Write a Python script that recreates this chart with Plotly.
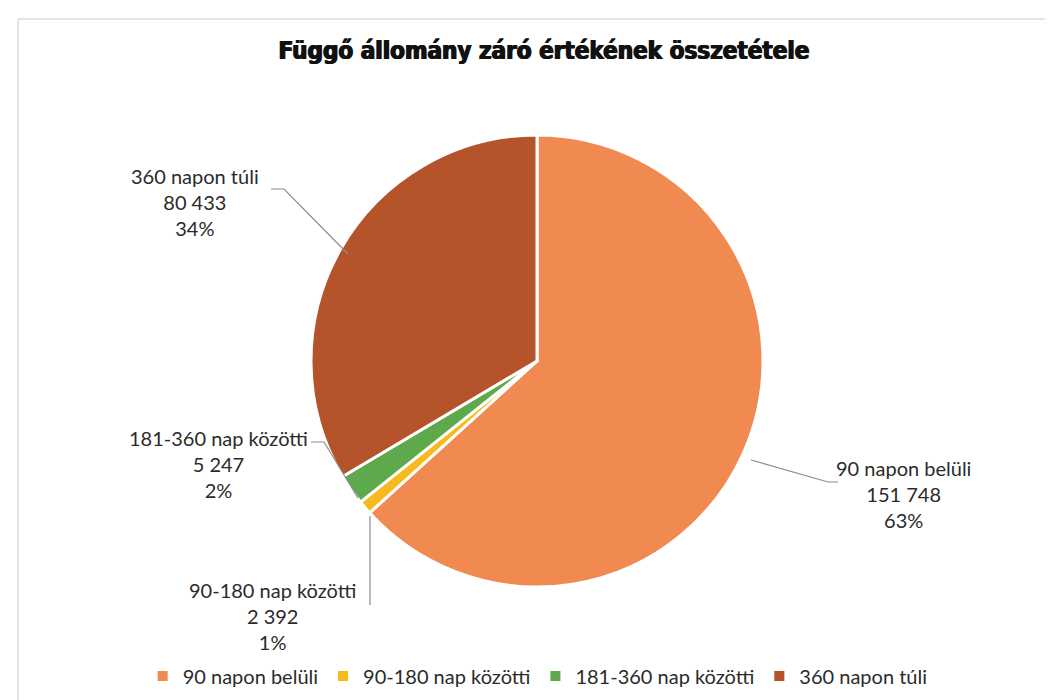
import plotly.graph_objects as go

# data
categories = ["90 napon belüli", "90-180 nap közötti", "181-360 nap közötti", "360 napon túli"]
values = [151748, 2392, 5247, 80433]
colors = ["#F08A50", "#F7BA1E", "#5EA94B", "#B5532B"]

total = sum(values)


def fmt_num(v):
    return f"{v:,}".replace(",", " ")


def label_text(name, v):
    pct = round(v / total * 100)
    return f"{name}<br>{fmt_num(v)}<br>{pct}%"


W, H = 1053, 700

fig = go.Figure(
    go.Pie(
        labels=categories,
        values=values,
        sort=False,
        direction="clockwise",
        rotation=0,
        textinfo="none",
        hoverinfo="label+value+percent",
        marker=dict(colors=colors, line=dict(color="white", width=3)),
        domain=dict(x=[303 / W, 755 / W], y=[1 - 579 / H, 1 - 127 / H]),
        showlegend=True,
    )
)

# label placement (paper pixels -> fractions)
label_pos = {
    "90 napon belüli": (895, 486),
    "90-180 nap közötti": (264, 608),
    "181-360 nap közötti": (210, 456),
    "360 napon túli": (187, 194),
}
for name, v in zip(categories, values):
    x, y = label_pos[name]
    fig.add_annotation(
        x=x / W, y=1 - y / H, xref="paper", yref="paper",
        text=label_text(name, v), showarrow=False,
        font=dict(family="Lato", size=20, color="#2b2b2b"),
        align="center", xanchor="center", yanchor="middle",
    )

# leader lines
leaders = [
    [(263, 181), (276, 181), (340, 246)],
    [(743, 452), (820, 474), (830, 474)],
    [(303, 434), (316, 434), (350, 490)],
    [(362, 508), (362, 597)],
]
for pts in leaders:
    path = "M " + " L ".join(f"{px / W},{1 - py / H}" for px, py in pts)
    fig.add_shape(type="path", path=path, xref="paper", yref="paper",
                  line=dict(color="#8c8c8c", width=1.2))

# faint border lines at top and left
fig.add_shape(type="line", xref="paper", yref="paper", x0=10 / W, x1=1, y0=1 - 11 / H, y1=1 - 11 / H,
              line=dict(color="#dcdcdc", width=1.5))
fig.add_shape(type="line", xref="paper", yref="paper", x0=10 / W, x1=10 / W, y0=0, y1=1 - 11 / H,
              line=dict(color="#dcdcdc", width=1.5))

fig.update_layout(
    width=W, height=H,
    margin=dict(l=0, r=0, t=0, b=0),
    paper_bgcolor="white",
    title=dict(
        text="<b>Függő állomány záró értékének összetétele</b>",
        x=0.509, xanchor="center", y=1 - 43 / H, yanchor="middle",
        font=dict(family="DejaVu Sans Condensed", size=24, color="#111111",
                  shadow="0.7px 0 0 #111, -0.7px 0 0 #111"),
    ),
    legend=dict(
        orientation="h", x=0.503, xanchor="center", y=1 - 668 / H, yanchor="middle",
        font=dict(family="Lato", size=20, color="#2b2b2b"),
        itemsizing="constant",
    ),
)

fig.write_html("out.html")
